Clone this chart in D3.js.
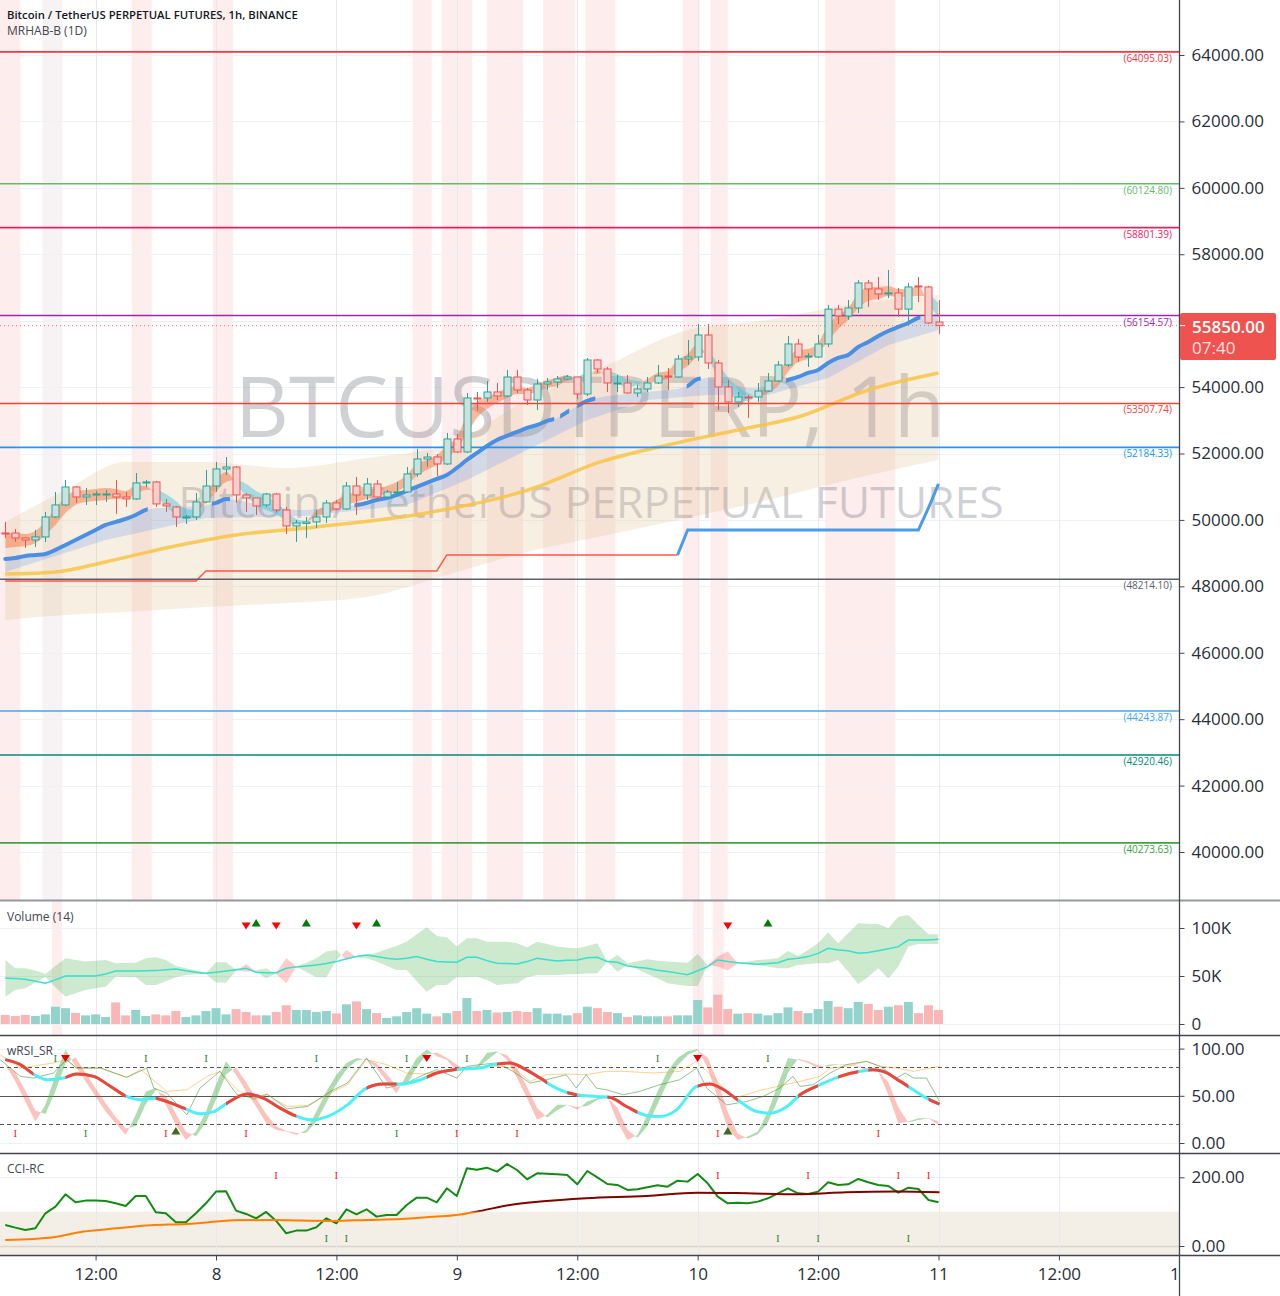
<!DOCTYPE html>
<html>
<head>
<meta charset="utf-8">
<script src="https://d3js.org/d3.v7.min.js"></script>
<style>
body { margin: 0; background: #fff; }
svg { display: block; font-family: "Open Sans", sans-serif; }
</style>
</head>
<body>
<svg id="chart" width="1280" height="1296"></svg>
<script>

// ---------------- data ----------------
var title = "Bitcoin / TetherUS PERPETUAL FUTURES, 1h, BINANCE";
var subtitle = "MRHAB-B (1D)";
var wmLine1 = "BTCUSDTPERP, 1h";
var wmLine2 = "Bitcoin / TetherUS PERPETUAL FUTURES";

var firstCandle = Date.UTC(2021, 4, 7, 3);   // hourly candles from here
var hourMs = 3600e3;

var opens  = [49607,49607,49457,49397,49487,50089,50450,50992,50691,50751,50766,50781,50691,50631,51113,51143,50481,50390,50074,50089,50541,51022,51534,51594,50751,50661,50450,50781,50300,49818,49894,49939,50089,50511,50330,51022,50751,51083,50691,50827,50842,51384,51835,51895,51685,52438,52046,53672,53672,53853,53732,54304,53913,53611,54093,54154,54244,54304,53792,54816,54545,54108,54124,53822,53943,54124,54334,54304,54846,54906,55569,54726,54003,53551,53702,53702,53883,54184,54666,55298,54921,54906,55298,56347,56142,56383,57136,56955,56820,56835,56347,57045,57015,55960];
var highs  = [49939,49728,49487,49698,50240,50842,51203,51022,50962,50872,50902,51203,50842,51414,51203,51173,50631,50420,50149,50812,51504,51745,51895,51624,50812,50661,50812,50812,50390,49999,50089,50300,50601,50601,51143,51293,51263,51203,50902,51143,51594,52136,52016,51986,52618,52588,53823,53853,54184,54124,54515,54515,53973,54244,54274,54334,54364,54304,54876,54846,54605,54364,54364,54063,54304,54665,54575,54967,55418,55900,55900,54816,54214,53853,53762,54124,54425,54786,55539,55448,55027,55569,56473,56473,56623,57226,57226,57316,57527,56985,57136,57316,57045,56623];
var lows   = [49457,49336,49156,49186,49336,50059,50420,50511,50450,50450,50541,50180,50390,50601,50992,50390,50240,49788,49878,49999,50511,50842,51353,50511,50240,50149,50390,50240,49577,49336,49457,49758,49909,50300,50300,50149,50601,50601,50661,50812,50812,51293,51594,51323,51655,52016,52016,53290,53551,53611,53702,53823,53461,53310,53913,53973,54214,53642,53732,54425,53853,53853,53792,53702,53853,54093,53913,54274,54665,54786,54545,53310,53220,53400,53069,53551,53853,54154,54605,54756,54605,54876,55208,55900,56022,56232,56413,56623,56684,56112,55960,56563,55900,55600];
var closes = [49577,49457,49397,49487,50089,50450,50992,50691,50751,50781,50781,50691,50631,51113,51143,50481,50420,50089,50089,50541,51022,51534,51594,50751,50661,50420,50781,50300,49818,49909,49939,50089,50511,50330,51022,50751,51083,50691,50842,50842,51384,51835,51895,51685,52438,52046,53672,53642,53853,53732,54304,53913,53611,54093,54154,54244,54304,53792,54816,54545,54124,54124,53822,53943,54124,54334,54304,54846,54906,55569,54726,54003,53551,53702,53672,53883,54184,54666,55298,54906,54936,55298,56347,56142,56383,57136,56955,56805,56835,56347,57015,57015,55931,55850];

// volume, thousands
var volumes = [9.4,8.3,9.4,8.3,10,18,16.5,11.6,9,10,7.3,22.5,9,14.6,8.3,10,9,13.5,7.3,9,13.5,16.5,10,15.5,12.5,9,9,12.5,19.5,14.6,14.6,12.5,13.5,11,20.5,23.5,15.5,11.3,6.3,8,12.5,16.5,10.8,8,11.3,13.5,27,13.5,14.6,12,12.5,13.5,12.5,16.5,10.8,10.8,9,11.3,18,16.5,12.5,11.3,7.3,9,8,8,8,9,9,25,17.3,30.6,15.5,10.8,11.3,10.8,9,11.3,17.3,13.5,11.3,15.5,24,18,16.5,23,21,14.6,18,19.5,23,11.3,19.5,14.6];
var volLine = [47.6,47.4,46.6,44.5,42.4,46,50,50,50,50,52,55.2,55.2,55.3,55.5,55.6,56.5,57.3,55.5,54,52.8,54,55.2,56.5,58,53.9,53.5,53.5,58,59.5,60.5,61.5,63,65,68,70.2,71.9,70.2,68.5,67.4,68.5,70.2,67.5,65,64.7,64.3,69.5,69.5,66,63.2,63,62.5,65,68.4,67,65.7,66.5,66.7,69.1,69.5,65,64.3,60.5,59,58,56,54.6,53,51.4,55.5,59.8,66.7,65,63.9,63,62.2,63,63.9,67.4,68.5,70.2,73.6,78.9,77.1,76.4,73.6,74.5,76.4,78.5,80.6,87.5,87.5,87.5,88.2];
var volBandA = [66.7,58,58,55.6,52.1,60.5,68.4,66.7,65,66,66.7,63.2,63.6,63.9,68.4,69.5,66.7,60.5,58,55.6,52.8,64.3,64.3,56.3,54.5,55.6,58,52.1,42.4,59.8,63.9,68.4,75.4,77.1,66.7,70.9,71.9,74.3,78.2,81.3,85.8,93.4,100.7,91.7,90.3,80.6,89.3,89.3,85.8,85.8,85.8,84.1,79.9,85.8,83.4,80.6,79.5,78.9,81.3,84.1,65,71.9,63.2,65.3,67.4,66,65,64.3,63.9,72.9,61.5,59.8,55.6,63.2,65,66.7,67.4,68.4,76.1,70.9,77.1,84.1,95.2,84.1,94.5,104.9,104.5,104.2,99.7,111.8,113.6,103.2,93.4,93.4];
var volBandB = [28.5,35.5,37.2,43.1,49.3,38.2,28.5,32,35.5,37.2,38.9,49.3,49,48.7,40.7,40.7,44.5,48.7,51.1,51.8,52.1,43.1,43.1,55.2,62.5,54.5,47.6,52.8,68.4,59.8,54.2,48.7,48.7,66.7,77.1,69.5,68.4,65,60.8,56.3,56.3,44.8,33.7,40.7,40.7,48.7,48.7,49.3,45.9,40.7,41.7,42.4,48.7,51.1,51.1,51.1,51.8,52.1,52.5,52.8,65,54.5,61.5,57,52.1,47.3,42.4,41,39.6,39.6,61.5,70.2,75.4,63.2,62.5,61.5,59.8,58,58,61.5,62.5,63.2,63.2,66.7,54.5,41.7,49.3,58,47.6,59.8,80.6,83.4,83.4,83.4];
var volDownMarks = [24, 27, 35, 72];
var volUpMarks = [25, 30, 37, 76];

// main-pane overlays (candle index -> price)
var bandIdx   = [0,6,12,20,28,36,44,52,60,68,76,84,93];
var bandUpper = [49939,50902,51745,51745,51564,51866,52257,53612,54666,55720,56021,56472,56774];
var bandLower = [46988,47138,47229,47379,47500,47680,48343,49035,49547,50059,50601,51203,51805];

var smaIdx = [0,5,10,16,23,31,42,53,59,66,73,79,86,93];
var smaVal = [48373,48433,48734,49156,49547,49788,50210,50992,51715,52257,52709,53100,53913,54425];

var emaVal = [48825,48855,48915,48945,48975,49096,49246,49397,49547,49698,49848,49939,50029,50149,50300,50360,50360,50360,50390,50420,50450,50511,50631,50601,50541,50481,50420,50360,50330,50300,50300,50330,50360,50390,50420,50450,50511,50601,50661,50752,50872,50992,51113,51233,51354,51565,51805,52016,52227,52408,52528,52648,52769,52859,52980,53070,53251,53431,53582,53672,53732,53763,53793,53823,53853,53883,53913,53943,54034,54244,54274,54214,54124,54034,53973,53973,54034,54124,54214,54305,54425,54515,54726,54877,54967,55208,55358,55539,55690,55810,55931,56081,56141,56232];
var emaShown = [[-0.5,14.2],[20.6,22.4],[34.8,54.7],[55.3,56.2],[57.0,58.8],[67.9,69.3],[77.8,91.2]];
var emaLowIdx = [0,10,20,30,40,46,52,58,64,70,76,82,88,93];
var emaLowVal = [48433,49397,50059,50119,50450,51203,52107,53010,53612,53763,53763,54274,55268,55720];

var cloudMid = [49366,49397,49397,49487,49758,50089,50450,50661,50721,50752,50782,50782,50752,50902,50962,50812,50601,50360,50179,50300,50661,51023,51294,51143,50902,50661,50511,50360,50119,49939,49969,50179,50330,50450,50601,50691,50782,50812,50902,50992,51203,51504,51655,51805,52046,52317,52859,53311,53522,53672,53823,53913,53883,53973,54094,54154,54274,54214,54335,54455,54365,54244,54124,54124,54184,54305,54365,54636,54816,55118,54967,54515,54064,53823,53702,53763,53943,54214,54666,54937,54997,55178,55629,55961,56201,56593,56804,56834,56894,56834,56834,56894,56623,56322];
var cloudHalf = [210,210,180,180,210,240,240,210,180,180,180,150,120,120,60,-90,-180,-210,-150,0,150,180,150,-60,-180,-210,-210,-180,-150,-90,0,90,120,150,150,150,150,120,120,150,150,180,150,150,180,180,270,240,180,150,150,120,90,120,120,120,90,-90,-90,60,-120,-150,-120,-60,60,120,120,180,180,180,-90,-210,-240,-180,-120,30,120,180,210,180,150,150,240,210,180,210,210,180,150,120,120,150,-120,-210];

var stopVal = [48162,48162,48162,48162,48162,48162,48162,48162,48162,48162,48162,48162,48162,48162,48162,48162,48162,48162,48162,48162,48463,48463,48463,48463,48463,48463,48463,48463,48463,48463,48463,48463,48463,48463,48463,48463,48463,48463,48463,48463,48463,48463,48463,48463,48945,48945,48945,48945,48945,48945,48945,48945,48945,48945,48945,48945,48945,48945,48945,48945,48945,48945,48945,48945,48945,48945,48945,48945,49698,49698,49698,49698,49698,49698,49698,49698,49698,49698,49698,49698,49698,49698,49698,49698,49698,49698,49698,49698,49698,49698,49698,49698,50360,51083];
var stopFlip = 67;

var levelVals   = [64095.03, 60124.80, 58801.39, 56154.57, 53507.74, 52184.33, 48214.10, 44243.87, 42920.46, 40273.63];
var levelColors = ["#f23645", "#66bb6a", "#e91e63", "#9c27b0", "#f44336", "#2196f3", "#5d606b", "#42a5f5", "#00897b", "#43a047"];

var priceTicks = d3.range(40000, 64001, 2000);
var lastPrice = 55850;
var countdown = "07:40";

var mainStripes = [[-0.6,1.5,"#fdeded"],[3.7,5.7,"#f7f3f4"],[12.6,14.6,"#fdeded"],[20.7,22.7,"#fdeded"],[40.6,42.5,"#fdeded"],[43.5,46.5,"#fdeded"],[48.0,51.6,"#fdeded"],[53.6,56.8,"#fdeded"],[57.8,60.8,"#fdeded"],[67.5,69.2,"#fdeded"],[70.3,72.0,"#fdeded"],[81.7,88.7,"#fdeded"]];
var volStripes = [[4.65,5.65],[68.5,69.6],[70.5,71.6]];

// wRSI_SR
var rsiFast = [83,65.3,44,22.7,40.4,72.3,98.9,81.2,65.3,49.3,33.3,20.9,8.5,29.8,54.6,58.2,40.4,19.2,3.2,12.1,33.3,61.7,86.5,72.3,54.6,38.7,20.9,13.8,12.1,8.5,13.8,33.3,54.6,72.3,84.8,90.1,88.3,79.4,65.3,52.8,72.3,90.1,99,91.9,88.3,76,78,81.2,95.4,97.2,88.3,68.8,47.5,24.5,29.8,40.4,40.4,35.1,44,47.5,49.3,22.7,3.2,8.5,29.8,54.6,75.9,90.1,97.2,99.5,79.4,47.5,15.6,3.2,6.8,12.1,33.3,61.7,90.1,88.3,84.8,79.4,83,83.7,82.5,81,75.9,75.9,51.1,20.9,22.7,26.2,26.2,19.2];
var rsiSmoothT = [0,1.5,2.8,4.2,5.8,7.1,8.8,10.5,12.1,13.5,14.8,16.1,17.8,19.4,20.8,22.1,24.1,25.7,27.4,28.7,30.4,32.1,34.1,36,37.7,39.4,41.4,43,44.7,46,47.3,48.6,50.3,51.6,53.3,54.9,56.9,58.9,60.3,61.9,63.9,65.2,66.9,68.9,70.2,71.6,73.2,74.9,76.2,77.9,79.2,81.2,83.2,85.2,86.5,87.5,89.2,90.5,91.8,93.1];
var rsiSmoothV = [88.3,83,73.1,67,68.8,73.1,70.6,59.9,49.3,45.8,47.5,44,36.9,30.9,33.3,42.2,51.8,47.5,36.9,29.8,24.5,28,40.4,58.2,62.4,62.4,67,74.1,77.7,78.7,79.4,83,84.8,79.4,68.8,58.2,51.1,49.3,48.2,38.7,29.1,28,35.1,59.9,62.4,56.4,44,33.3,31.6,38.7,51.1,61.7,70.6,75.9,77.7,75.9,65.3,56.4,47.5,41.1];
var rsiRedSpans = [[-1,2.8],[6,12],[15,18],[22,29],[36,39],[42,45],[49,54],[56,57],[60,63],[69,73],[79,81],[83,85],[86,90],[92,94]];
var rsiThinGT = [-0.5,1.5,2.8,4.8,6.1,7.1,9.5,12.1,14.1,14.8,16.1,18.1,19.4,21.4,23.1,24.8,26.1,28.1,30.1,31.4,32.4,34.1,36,38,40,41.7,43,45,46,47.3,49,50.6,52.3,53.9,55.9,56.9,57.9,58.9,59.9,61.6,63.2,65.2,67.2,68.9,69.9,71.9,73.9,75.5,77.2,78.5,79.2,80.5,82.2,83.8,85.8,87.2,88.8,89.7,90.5,91.8,93.1];
var rsiThinGV = [88.3,70.6,68.8,74.1,88.3,79.4,79.4,69.5,79.4,58.2,52.8,29.8,58.2,75.9,51.1,47.5,51.8,36.2,38.7,47.5,54.6,63.5,90.1,58.2,63.5,72.3,77.7,68.8,81.2,83,84.8,75.9,63.5,67,72.3,58.2,72.3,58.2,56.4,51.1,54.6,61.7,67,79.4,58.2,40.4,44,49.3,58.2,70.6,59.9,61.7,74.1,83,86.5,81.2,68.8,74.1,68.8,68.8,44];
var rsiThinOT = [-0.5,1.5,4.8,6.1,7.1,9.5,12.1,13.5,16.1,18.1,20.1,21.4,23.1,24.8,26.1,28.1,30.1,32.4,34.1,36,38,40,41.7,43.3,45.3,47.3,49,50.6,52.3,53.9,55.9,57.9,59.9,61.6,64.6,67.2,68.9,70.6,72.6,75.5,79.2,81.2,82.2,83.8,85.8,87.2,88.8,90.5,93.1];
var rsiThinOV = [93.6,79.4,84.8,88.3,79.4,79.4,69.5,77.7,54.6,56.4,70.6,75.9,56.4,45.8,51.1,38.7,39.7,52.8,61.7,88.3,83,74.1,73.1,75.9,79.4,81.2,81.2,79.4,65.3,72.3,73.1,72.3,75.9,75.9,74.1,75.9,86.5,68.8,47.5,56.4,65.3,70.6,79.4,81.2,86.5,81.2,79.4,75.9,81.2];
var rsiTopGreen = [5, 14, 20, 31, 40, 46, 65, 76];
var rsiTopRedTri = [6, 42, 69];
var rsiBotRed = [1, 16, 24, 45, 51, 71, 87];
var rsiBotGreen = [8, 39];
var rsiBotUpTri = [17, 72];

// CCI-RC
var cciFast = [61,53.5,46.7,51.5,95.2,114.6,150.5,127.2,132.1,132.1,131.1,124.3,116.5,145.6,145.6,98.1,95.2,69,69,95.2,124.3,158.3,159.2,103,93.3,80.7,99.1,72.9,37,44.8,44.8,54.5,80.7,66.1,106.8,92.3,106.8,85.5,90.4,90.4,119.4,140.8,140.8,127.2,167.9,145.6,226.2,222,228.1,216.4,238.8,221.3,194.1,211.6,210.6,208.7,206.8,179.6,218.4,200,180.6,177.7,163.1,165,170.9,176.7,172.8,190.3,187.4,209.7,182.5,143.7,124.3,126.2,124.3,129.2,138.9,153.4,167.9,153.4,151.5,158.3,185.4,177.7,179.6,195.1,185.4,177.7,174.7,155.3,169.9,166,134,127.2];
var cciSlowT = [0,2.8,4.8,7.8,11.1,14.5,18.1,21.1,22.8,26.7,29.4,32.7,36,39.4,42.7,45,47.3,50.3,53.3,57.9,63.9,68.9,73.9,78.9,83.8,88.8,93.1];
var cciSlowV = [17.6,20.5,25.4,41.9,51.5,60.3,64.2,71,74.8,75.8,73.9,72.9,75.8,78.7,85.5,90.4,102,119.5,129.2,138.9,145.6,155.3,153.4,150.5,156.3,158.3,156.3];
var cciTopRed = [27, 33, 71, 80, 89, 92];
var cciBotGreen = [32, 34, 77, 81, 90];

// ---------------- layout / scales ----------------
var svg = d3.select("#chart");
var defs = svg.append("defs");
var plotRight = 1179;
var pane = {
  main: [0, 900],
  vol: [901, 1035],
  rsi: [1036, 1153],
  cci: [1154, 1255]
};

var x = d3.scaleUtc()
  .domain([new Date(Date.UTC(2021, 4, 8)), new Date(Date.UTC(2021, 4, 11))])
  .range([216, 938.5]);
function xi(i) { return x(new Date(firstCandle + i * hourMs)); }

var yP = d3.scaleLinear().domain([40000, 64000]).range([852, 55]);
var yV = d3.scaleLinear().domain([0, 100]).range([1024, 928]);
var yR = d3.scaleLinear().domain([0, 100]).range([1143, 1048.6]);
var yC = d3.scaleLinear().domain([0, 200]).range([1246, 1177.3]);

function clipRect(id, y0, y1) {
  defs.append("clipPath").attr("id", id).append("rect")
    .attr("x", 0).attr("y", y0).attr("width", plotRight).attr("height", y1 - y0);
}
clipRect("c-main", pane.main[0], pane.main[1]);
clipRect("c-vol", pane.vol[0], pane.vol[1]);
clipRect("c-rsi", pane.rsi[0], pane.rsi[1]);
clipRect("c-cci", pane.cci[0], pane.cci[1]);

function spanClip(id, spans, y0, y1) {
  var cp = defs.append("clipPath").attr("id", id);
  spans.forEach(function (s) {
    cp.append("rect").attr("x", xi(s[0])).attr("y", y0)
      .attr("width", xi(s[1]) - xi(s[0])).attr("height", y1 - y0);
  });
}

// fill between series a and b: upCol where a > b, dnCol where b > a
function diffFill(g, ts, a, b, ys, top, bottom, upCol, dnCol, id, curve) {
  var pts = ts.map(function (t, i) { return { x: xi(t), a: ys(a[i]), b: ys(b[i]) }; });
  var mk = function (y0, key) {
    return d3.area().curve(curve).x(function (d) { return d.x; }).y0(y0).y1(function (d) { return d[key]; });
  };
  defs.append("clipPath").attr("id", id + "-ba").append("path").datum(pts).attr("d", mk(bottom, "a"));
  defs.append("clipPath").attr("id", id + "-bb").append("path").datum(pts).attr("d", mk(bottom, "b"));
  g.append("path").datum(pts).attr("d", mk(top, "b")).attr("clip-path", "url(#" + id + "-ba)").attr("fill", upCol);
  g.append("path").datum(pts).attr("d", mk(top, "a")).attr("clip-path", "url(#" + id + "-bb)").attr("fill", dnCol);
}

var idxAll = d3.range(closes.length);
var timeTicks = d3.range(-12, 97, 12).map(function (h) { return new Date(Date.UTC(2021, 4, 8) + h * hourMs); });

function vGrid(g, y0, y1) {
  g.selectAll(null).data(timeTicks).enter().append("line")
    .attr("x1", function (d) { return Math.round(x(d)) + 0.5; })
    .attr("x2", function (d) { return Math.round(x(d)) + 0.5; })
    .attr("y1", y0).attr("y2", y1)
    .attr("stroke", "#e6eaf0").attr("stroke-width", 1);
}
function hGrid(g, vals, ys) {
  g.selectAll(null).data(vals).enter().append("line")
    .attr("x1", 0).attr("x2", plotRight)
    .attr("y1", function (d) { return Math.round(ys(d)) + 0.5; })
    .attr("y2", function (d) { return Math.round(ys(d)) + 0.5; })
    .attr("stroke", "#eef1f5").attr("stroke-width", 1);
}

// ---------------- main pane ----------------
var gm = svg.append("g").attr("clip-path", "url(#c-main)");

gm.selectAll(null).data(mainStripes).enter().append("rect")
  .attr("x", function (d) { return xi(d[0]); })
  .attr("width", function (d) { return xi(d[1]) - xi(d[0]); })
  .attr("y", 0).attr("height", 900)
  .attr("fill", function (d) { return d[2]; });

hGrid(gm, priceTicks, yP);
vGrid(gm, 0, 900);

gm.append("text").attr("x", 590).attr("y", 437).attr("text-anchor", "middle")
  .attr("font-size", 84).attr("fill", "rgba(120,123,134,0.35)").text(wmLine1);
gm.append("text").attr("x", 591).attr("y", 518).attr("text-anchor", "middle")
  .attr("font-size", 44.5).attr("fill", "rgba(120,123,134,0.35)").text(wmLine2);

// wide band
gm.append("path")
  .datum(bandIdx.map(function (t, i) { return [t, bandUpper[i], bandLower[i]]; }))
  .attr("d", d3.area().curve(d3.curveMonotoneX)
    .x(function (d) { return xi(d[0]); })
    .y0(function (d) { return yP(d[2]); })
    .y1(function (d) { return yP(d[1]); }))
  .attr("fill", "rgba(222,180,128,0.22)");

// light blue band under the ema
var emaTop = idxAll.map(function (i) { return [xi(i), yP(emaVal[i])]; });
var emaBot = emaLowIdx.map(function (t, i) { return [xi(t), yP(emaLowVal[i])]; }).reverse();
gm.append("path").attr("d", d3.line().curve(d3.curveLinear)(emaTop.concat(emaBot)) + "Z")
  .attr("fill", "rgba(66,133,244,0.2)");

// yellow moving average
gm.append("path")
  .datum(smaIdx.map(function (t, i) { return [xi(t), yP(smaVal[i])]; }))
  .attr("d", d3.line().curve(d3.curveMonotoneX))
  .attr("fill", "none").attr("stroke", "rgba(247,196,70,0.85)").attr("stroke-width", 3.5);

// salmon / cyan cloud
var cloudA = cloudMid.map(function (m, i) { return m + cloudHalf[i]; });
var cloudB = cloudMid.map(function (m, i) { return m - cloudHalf[i]; });
diffFill(gm, idxAll, cloudA, cloudB, yP, 0, 900, "rgba(244,128,80,0.55)", "rgba(60,196,214,0.45)", "cloud", d3.curveMonotoneX);

// thick blue ema, only where shown
spanClip("c-ema", emaShown, 0, 900);
gm.append("g").attr("clip-path", "url(#c-ema)").append("path")
  .datum(idxAll)
  .attr("d", d3.line().curve(d3.curveMonotoneX).x(xi).y(function (i) { return yP(emaVal[i]); }))
  .attr("fill", "none").attr("stroke", "#4a8fe2").attr("stroke-width", 4).attr("stroke-linecap", "round");

// trailing stop
var stopLine = d3.line().x(xi).y(function (i) { return yP(stopVal[i]); });
gm.append("path").datum(idxAll.filter(function (i) { return i <= stopFlip; }))
  .attr("d", stopLine).attr("fill", "none").attr("stroke", "rgba(255,59,48,0.85)").attr("stroke-width", 1.4);
gm.append("path").datum(idxAll.filter(function (i) { return i >= stopFlip; }))
  .attr("d", stopLine).attr("fill", "none").attr("stroke", "#4c9be8").attr("stroke-width", 3);

// horizontal levels
gm.selectAll(null).data(levelVals).enter().append("line")
  .attr("x1", 0).attr("x2", plotRight)
  .attr("y1", function (d) { return yP(d); }).attr("y2", function (d) { return yP(d); })
  .attr("stroke", function (d, i) { return levelColors[i]; })
  .attr("stroke-width", function (d, i) { return i === 6 ? 1.4 : 1.6; });
gm.selectAll(null).data(levelVals).enter().append("text")
  .attr("x", 1172).attr("y", function (d) { return yP(d) + 10; })
  .attr("text-anchor", "end").attr("font-size", 10)
  .attr("fill", function (d, i) { return levelColors[i]; })
  .text(function (d) { return "(" + d.toFixed(2) + ")"; });

// last price dotted line
gm.append("line").attr("x1", 0).attr("x2", plotRight)
  .attr("y1", yP(lastPrice)).attr("y2", yP(lastPrice))
  .attr("stroke", "#ef5350").attr("stroke-width", 1).attr("stroke-dasharray", "1,3").attr("opacity", 0.8);

// candles
var cg = gm.append("g");
idxAll.forEach(function (i) {
  var up = closes[i] >= opens[i];
  var col = up ? "#26a69a" : "#ef5350";
  var cx = Math.round(xi(i)) + 0.5;
  cg.append("line").attr("x1", cx).attr("x2", cx)
    .attr("y1", yP(highs[i])).attr("y2", yP(lows[i]))
    .attr("stroke", col).attr("stroke-width", 1);
  var top = yP(Math.max(opens[i], closes[i]));
  var h = Math.max(1, Math.abs(yP(opens[i]) - yP(closes[i])));
  cg.append("rect").attr("x", cx - 3.5).attr("y", top).attr("width", 7).attr("height", h)
    .attr("fill", up ? "#c9e2de" : "#f6cfcd").attr("stroke", col).attr("stroke-width", 1);
});

// ---------------- volume pane ----------------
var gv = svg.append("g").attr("clip-path", "url(#c-vol)");
gv.selectAll(null).data(volStripes).enter().append("rect")
  .attr("x", function (d) { return xi(d[0]); })
  .attr("width", function (d) { return xi(d[1]) - xi(d[0]); })
  .attr("y", 901).attr("height", 134).attr("fill", "#fdeded");
hGrid(gv, [0, 50, 100], yV);
vGrid(gv, 901, 1035);
diffFill(gv, idxAll, volBandA, volBandB, yV, 901, 1035, "rgba(76,175,80,0.28)", "rgba(255,82,82,0.3)", "vband", d3.curveLinear);
gv.append("path").datum(idxAll)
  .attr("d", d3.line().x(xi).y(function (i) { return yV(volLine[i]); }))
  .attr("fill", "none").attr("stroke", "#35e0cc").attr("stroke-width", 1.5);
gv.selectAll(null).data(idxAll).enter().append("rect")
  .attr("x", function (i) { return xi(i) - 4.5; })
  .attr("width", 9)
  .attr("y", function (i) { return yV(volumes[i]); })
  .attr("height", function (i) { return yV(0) - yV(volumes[i]); })
  .attr("fill", function (i) { return closes[i] >= opens[i] ? "#93d3cc" : "#f8b7b6"; });

function triDown(g, i, cy, col) {
  var cx = xi(i);
  g.append("path").attr("d", "M" + (cx - 4.5) + "," + (cy - 3.5) + "L" + (cx + 4.5) + "," + (cy - 3.5) + "L" + cx + "," + (cy + 3.5) + "Z").attr("fill", col);
}
function triUp(g, i, cy, col) {
  var cx = xi(i);
  g.append("path").attr("d", "M" + (cx - 4.5) + "," + (cy + 3.5) + "L" + (cx + 4.5) + "," + (cy + 3.5) + "L" + cx + "," + (cy - 4) + "Z").attr("fill", col);
}
volDownMarks.forEach(function (i) { triDown(gv, i, 926, "#ff0000"); });
volUpMarks.forEach(function (i) { triUp(gv, i, 923, "#007a00"); });

// ---------------- wRSI pane ----------------
var gr = svg.append("g").attr("clip-path", "url(#c-rsi)");
hGrid(gr, [0, 100], yR);
vGrid(gr, 1036, 1153);
[80, 20].forEach(function (v) {
  gr.append("line").attr("x1", 0).attr("x2", plotRight).attr("y1", Math.round(yR(v)) + 0.5).attr("y2", Math.round(yR(v)) + 0.5)
    .attr("stroke", "#555").attr("stroke-dasharray", "4,3");
});
gr.append("line").attr("x1", 0).attr("x2", plotRight).attr("y1", Math.round(yR(50)) + 0.5).attr("y2", Math.round(yR(50)) + 0.5)
  .attr("stroke", "#555");

var rsiLag = rsiFast.map(function (v, i) { return i === 0 ? v : 0.45 * v + 0.55 * rsiFast[i - 1]; });
diffFill(gr, idxAll, rsiFast, rsiLag, yR, 1036, 1153, "rgba(76,175,80,0.45)", "rgba(244,67,54,0.32)", "rband", d3.curveLinear);

function seriesLine(ts, vs, ys) {
  return d3.line().x(function (d) { return xi(d); }).y(function (d, k) { return ys(vs[k]); })(ts);
}
gr.append("path").attr("d", seriesLine(rsiThinOT, rsiThinOV, yR))
  .attr("fill", "none").attr("stroke", "rgba(255,152,0,0.45)").attr("stroke-width", 1);
gr.append("path").attr("d", seriesLine(rsiThinGT, rsiThinGV, yR))
  .attr("fill", "none").attr("stroke", "rgba(56,142,60,0.55)").attr("stroke-width", 1);

var smoothD = d3.line().curve(d3.curveMonotoneX)
  .x(function (d) { return xi(d); }).y(function (d, k) { return yR(rsiSmoothV[k]); })(rsiSmoothT);
gr.append("path").attr("d", smoothD).attr("fill", "none").attr("stroke", "#4cf0f7").attr("stroke-width", 3);
spanClip("c-rsired", rsiRedSpans, 1036, 1153);
gr.append("path").attr("d", smoothD).attr("clip-path", "url(#c-rsired)")
  .attr("fill", "none").attr("stroke", "#f44336").attr("stroke-width", 3);

function iMark(g, i, cy, col) {
  g.append("text").attr("x", xi(i)).attr("y", cy + 4).attr("text-anchor", "middle")
    .attr("font-family", "Liberation Serif, serif").attr("font-size", 11).attr("fill", col).text("I");
}
rsiTopGreen.forEach(function (i) { iMark(gr, i, 1058, "#2e8b2e"); });
rsiBotRed.forEach(function (i) { iMark(gr, i, 1133, "#ff2020"); });
rsiBotGreen.forEach(function (i) { iMark(gr, i, 1133, "#2e8b2e"); });
rsiTopRedTri.forEach(function (i) { triDown(gr, i, 1058.5, "#e00000"); });
rsiBotUpTri.forEach(function (i) { triUp(gr, i, 1131, "#3f6b1e"); });

// ---------------- CCI pane ----------------
var gc = svg.append("g").attr("clip-path", "url(#c-cci)");
gc.append("rect").attr("x", 0).attr("width", plotRight)
  .attr("y", yC(100)).attr("height", yC(-100) - yC(100)).attr("fill", "#f3eee6");
hGrid(gc, [200], yC);
gc.append("line").attr("x1", 0).attr("x2", plotRight).attr("y1", Math.round(yC(0)) + 0.5).attr("y2", Math.round(yC(0)) + 0.5)
  .attr("stroke", "#d8d3cb").attr("stroke-width", 1.5);
vGrid(gc, 1154, 1255);

gc.append("path").datum(idxAll)
  .attr("d", d3.line().x(xi).y(function (i) { return yC(cciFast[i]); }))
  .attr("fill", "none").attr("stroke", "#138a13").attr("stroke-width", 2).attr("stroke-linejoin", "round");

defs.append("clipPath").attr("id", "c-cci-hi").append("rect")
  .attr("x", 0).attr("y", 1154).attr("width", plotRight).attr("height", yC(100) - 1154);
defs.append("clipPath").attr("id", "c-cci-lo").append("rect")
  .attr("x", 0).attr("y", yC(100)).attr("width", plotRight).attr("height", 1255 - yC(100));
var slowD = d3.line().curve(d3.curveMonotoneX)
  .x(function (d) { return xi(d); }).y(function (d, k) { return yC(cciSlowV[k]); })(cciSlowT);
gc.append("path").attr("d", slowD).attr("clip-path", "url(#c-cci-lo)")
  .attr("fill", "none").attr("stroke", "#ff8000").attr("stroke-width", 2);
gc.append("path").attr("d", slowD).attr("clip-path", "url(#c-cci-hi)")
  .attr("fill", "none").attr("stroke", "#800000").attr("stroke-width", 2);
cciTopRed.forEach(function (i) { iMark(gc, i, 1175, "#ff2020"); });
cciBotGreen.forEach(function (i) { iMark(gc, i, 1238, "#2e8b2e"); });

// ---------------- frames, axes, labels ----------------
svg.append("line").attr("x1", 0).attr("x2", 1280).attr("y1", 900.5).attr("y2", 900.5).attr("stroke", "#9598a1").attr("stroke-width", 2);
[1035.5, 1153.5, 1255.5].forEach(function (y) {
  svg.append("line").attr("x1", 0).attr("x2", 1280).attr("y1", y).attr("y2", y).attr("stroke", "#434651").attr("stroke-width", 1.3);
});
svg.append("line").attr("x1", plotRight + 0.5).attr("x2", plotRight + 0.5).attr("y1", 0).attr("y2", 1296)
  .attr("stroke", "#434651").attr("stroke-width", 1.3);

function rightAxis(ys, vals, fmt) {
  var g = svg.append("g").attr("transform", "translate(" + (plotRight + 0.5) + ",0)")
    .call(d3.axisRight(ys).tickValues(vals).tickFormat(fmt).tickSize(5).tickPadding(7));
  g.select(".domain").remove();
  g.selectAll("line").attr("stroke", "#434651");
  g.selectAll("text").attr("font-size", 17).attr("fill", "#2a2e39").attr("font-family", "Open Sans, sans-serif");
  return g;
}
// the last-price tag hides the tick it sits on
var shownPriceTicks = priceTicks.filter(function (v) { return Math.abs(yP(v) - yP(lastPrice)) > 14; });
rightAxis(yP, shownPriceTicks, d3.format(".2f"));
rightAxis(yV, [0, 50, 100], function (d) { return d === 0 ? "0" : d + "K"; });
rightAxis(yR, [0, 50, 100], d3.format(".2f"));
rightAxis(yC, [0, 200], d3.format(".2f"));

defs.append("clipPath").attr("id", "c-time").append("rect")
  .attr("x", 0).attr("y", 1255).attr("width", plotRight).attr("height", 41);
var gt = svg.append("g").attr("clip-path", "url(#c-time)").append("g")
  .attr("transform", "translate(0,1255.5)")
  .call(d3.axisBottom(x).tickValues(timeTicks).tickSize(5).tickPadding(7)
    .tickFormat(function (d) { return d.getUTCHours() === 0 ? String(d.getUTCDate()) : "12:00"; }));
gt.select(".domain").remove();
gt.selectAll("line").attr("stroke", "#434651");
gt.selectAll("text").attr("font-size", 17).attr("fill", "#2a2e39").attr("font-family", "Open Sans, sans-serif");

// last price tag
svg.append("rect").attr("x", 1180).attr("y", 313).attr("width", 96).attr("height", 47).attr("rx", 2).attr("fill", "#ef5350");
svg.append("line").attr("x1", 1180).attr("x2", 1185).attr("y1", yP(lastPrice)).attr("y2", yP(lastPrice)).attr("stroke", "#fff");
svg.append("text").attr("x", 1192).attr("y", 333).attr("font-size", 17).attr("font-weight", 600).attr("fill", "#fff").text(d3.format(".2f")(lastPrice));
svg.append("text").attr("x", 1192).attr("y", 354).attr("font-size", 17).attr("fill", "rgba(255,255,255,0.85)").text(countdown);

// titles
svg.append("text").attr("x", 7).attr("y", 19).attr("font-size", 11.3).attr("font-weight", 600).attr("fill", "#131722").text(title);
svg.append("text").attr("x", 7).attr("y", 35).attr("font-size", 12).attr("fill", "#434651").text(subtitle);
svg.append("text").attr("x", 7).attr("y", 921).attr("font-size", 12).attr("fill", "#434651").text("Volume (14)");
svg.append("text").attr("x", 7).attr("y", 1055).attr("font-size", 12).attr("fill", "#434651").text("wRSI_SR");
svg.append("text").attr("x", 7).attr("y", 1173).attr("font-size", 12).attr("fill", "#434651").text("CCI-RC");

</script>
</body>
</html>
